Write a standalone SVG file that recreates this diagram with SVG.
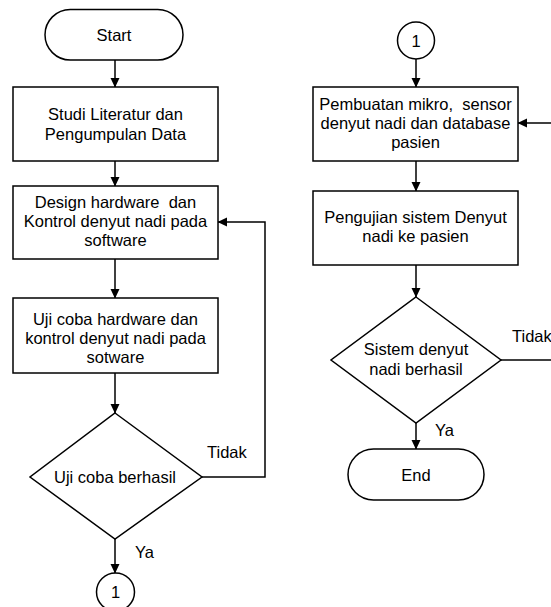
<svg xmlns="http://www.w3.org/2000/svg" width="551" height="607" viewBox="0 0 551 607">
<style>
.s{fill:#fff;stroke:#000;stroke-width:1.5}
.t{font-family:"Liberation Sans",Arial,sans-serif;font-size:16.5px;fill:#000;text-anchor:middle;white-space:pre}
.l{font-family:"Liberation Sans",Arial,sans-serif;font-size:16.5px;fill:#000}
.c{fill:none;stroke:#000;stroke-width:1.5}
</style>
<defs>
<marker id="a" markerWidth="10" markerHeight="10" refX="9" refY="5" orient="auto" markerUnits="userSpaceOnUse">
<path d="M0,0.5 L9.5,5 L0,9.5 Z" fill="#000"/>
</marker>
</defs>
<rect width="551" height="607" fill="#fff"/>
<g id="connectors">
<line class="c" x1="115" y1="60" x2="115" y2="87" marker-end="url(#a)"/>
<line class="c" x1="115" y1="161" x2="115" y2="186" marker-end="url(#a)"/>
<line class="c" x1="115" y1="259" x2="115" y2="298" marker-end="url(#a)"/>
<line class="c" x1="115" y1="373" x2="115" y2="413" marker-end="url(#a)"/>
<polyline class="c" points="202,477 265,477 265,222 218,222" marker-end="url(#a)"/>
<line class="c" x1="115" y1="539" x2="115" y2="573" marker-end="url(#a)"/>
<line class="c" x1="416" y1="59" x2="416" y2="87" marker-end="url(#a)"/>
<line class="c" x1="416" y1="161" x2="416" y2="191" marker-end="url(#a)"/>
<line class="c" x1="416" y1="265" x2="416" y2="297" marker-end="url(#a)"/>
<line class="c" x1="416" y1="423" x2="416" y2="449" marker-end="url(#a)"/>
<line class="c" x1="501" y1="360" x2="560" y2="360"/>
<line class="c" x1="560" y1="123" x2="518" y2="123" marker-end="url(#a)"/>
<text class="l" x="207" y="458">Tidak</text>
<text class="l" x="135" y="558">Ya</text>
<text class="l" x="512" y="342">Tidak</text>
<text class="l" x="435" y="436">Ya</text>
</g>
<g id="start">
<rect class="s" x="45" y="9.5" width="138" height="50.5" rx="25.25"/>
<text class="t" x="114" y="41">Start</text>
</g>
<g id="studi">
<rect class="s" x="13" y="87" width="205" height="74"/>
<text class="t" x="115.5" y="119.5">Studi Literatur dan</text>
<text class="t" x="115.5" y="139.5">Pengumpulan Data</text>
</g>
<g id="design">
<rect class="s" x="13" y="186" width="205" height="73"/>
<text class="t" x="115.5" y="208" xml:space="preserve">Design hardware  dan</text>
<text class="t" x="115.5" y="227">Kontrol denyut nadi pada</text>
<text class="t" x="115.5" y="246">software</text>
</g>
<g id="ujicoba">
<rect class="s" x="13" y="298" width="205" height="75"/>
<text class="t" x="115.5" y="325">Uji coba hardware dan</text>
<text class="t" x="115.5" y="344">kontrol denyut nadi pada</text>
<text class="t" x="115.5" y="363">sotware</text>
</g>
<g id="decision1">
<polygon class="s" points="115,413 202,477 115,539 30,477"/>
<text class="t" x="115" y="483">Uji coba berhasil</text>
</g>
<g id="conn1a">
<circle class="s" cx="115.5" cy="592" r="19"/>
<text class="t" x="115.5" y="597.5">1</text>
</g>
<g id="conn1b">
<circle class="s" cx="416" cy="40.5" r="18.5"/>
<text class="t" x="416" y="46.5">1</text>
</g>
<g id="pembuatan">
<rect class="s" x="313" y="87" width="205" height="74"/>
<text class="t" x="415.5" y="110" xml:space="preserve">Pembuatan mikro,  sensor</text>
<text class="t" x="415.5" y="129">denyut nadi dan database</text>
<text class="t" x="415.5" y="148">pasien</text>
</g>
<g id="pengujian">
<rect class="s" x="313" y="191" width="205" height="74"/>
<text class="t" x="415.5" y="223">Pengujian sistem Denyut</text>
<text class="t" x="415.5" y="242">nadi ke pasien</text>
</g>
<g id="decision2">
<polygon class="s" points="416,297 501,360 416,423 331,360"/>
<text class="t" x="416" y="355">Sistem denyut</text>
<text class="t" x="416" y="375">nadi berhasil</text>
</g>
<g id="end">
<rect class="s" x="348" y="449" width="136" height="51" rx="25.5"/>
<text class="t" x="416" y="481">End</text>
</g>
</svg>
